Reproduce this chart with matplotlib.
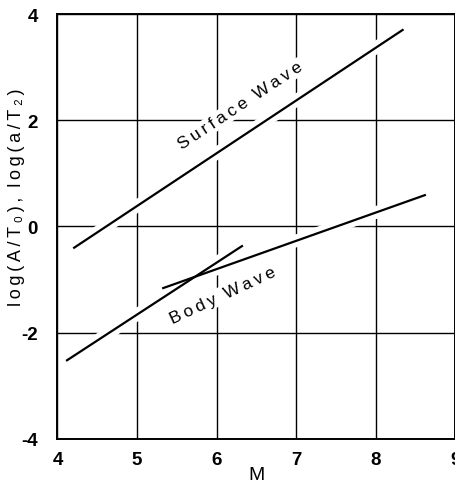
import matplotlib
matplotlib.use('Agg')
import matplotlib.pyplot as plt

# magnitude M vs log amplitude/period
surface_m = [4.21, 8.34]
surface_log = [-0.40, 3.70]
body_short_m = [4.12, 6.32]
body_short_log = [-2.52, -0.37]
body_long_m = [5.33, 8.62]
body_long_log = [-1.16, 0.59]

x_ticks = [4, 5, 6, 7, 8, 9]
y_ticks = [-4, -2, 0, 2, 4]

FONT = ['Liberation Sans', 'DejaVu Sans']
plt.rcParams['font.family'] = FONT

TS = '\u2009'  # thin space for the spread-out lettering


def spaced(s):
    return TS.join(s)


fig = plt.figure(figsize=(4.56, 4.85), dpi=100)
ax = fig.add_axes([0.126, 0.093, 0.872, 0.876])

ax.set_xticks(x_ticks)
ax.set_yticks(y_ticks)
ax.set_xlim(4, 9)
ax.set_ylim(-4, 4)
ax.set_xticklabels([str(t) for t in x_ticks], fontweight='bold')
ax.set_yticklabels([str(t) for t in y_ticks], fontweight='bold')
ax.tick_params(length=0, labelsize=13.5, pad=9)
ax.tick_params(axis='y', pad=14)
ax.grid(True, color='black', linewidth=1.0)
ax.set_axisbelow(True)
for sp in ax.spines.values():
    sp.set_linewidth(1.4)

curves = [(surface_m, surface_log), (body_short_m, body_short_log),
          (body_long_m, body_long_log)]
# white under-stroke breaks the grid where the curves cross it, like the drafting
for m, v in curves:
    ax.plot(m, v, color='white', linewidth=9, solid_capstyle='butt', zorder=2)
for m, v in curves:
    ax.plot(m, v, color='black', linewidth=1.6, zorder=3)

ax.text(6.30, 2.28, spaced('Surface') + '  ' + spaced('Wave'), rotation=33.5,
        rotation_mode='anchor', ha='center', va='center', fontsize=12.5, zorder=2.5,
        bbox=dict(facecolor='white', edgecolor='none', pad=1))
ax.text(6.08, -1.29, spaced('Body') + '  ' + spaced('Wave'), rotation=25,
        rotation_mode='anchor', ha='center', va='center', fontsize=12.5, zorder=2.5,
        bbox=dict(facecolor='white', edgecolor='none', pad=1))

ax.set_xlabel('M', fontsize=14, labelpad=-2)
ax.set_ylabel(spaced('log(A/T\u2080),') + '  ' + spaced('log(a/T\u2082)'), fontsize=13)
ax.yaxis.set_label_coords(-0.082, 0.572)

fig.savefig('out.png', dpi=100, facecolor='white')
